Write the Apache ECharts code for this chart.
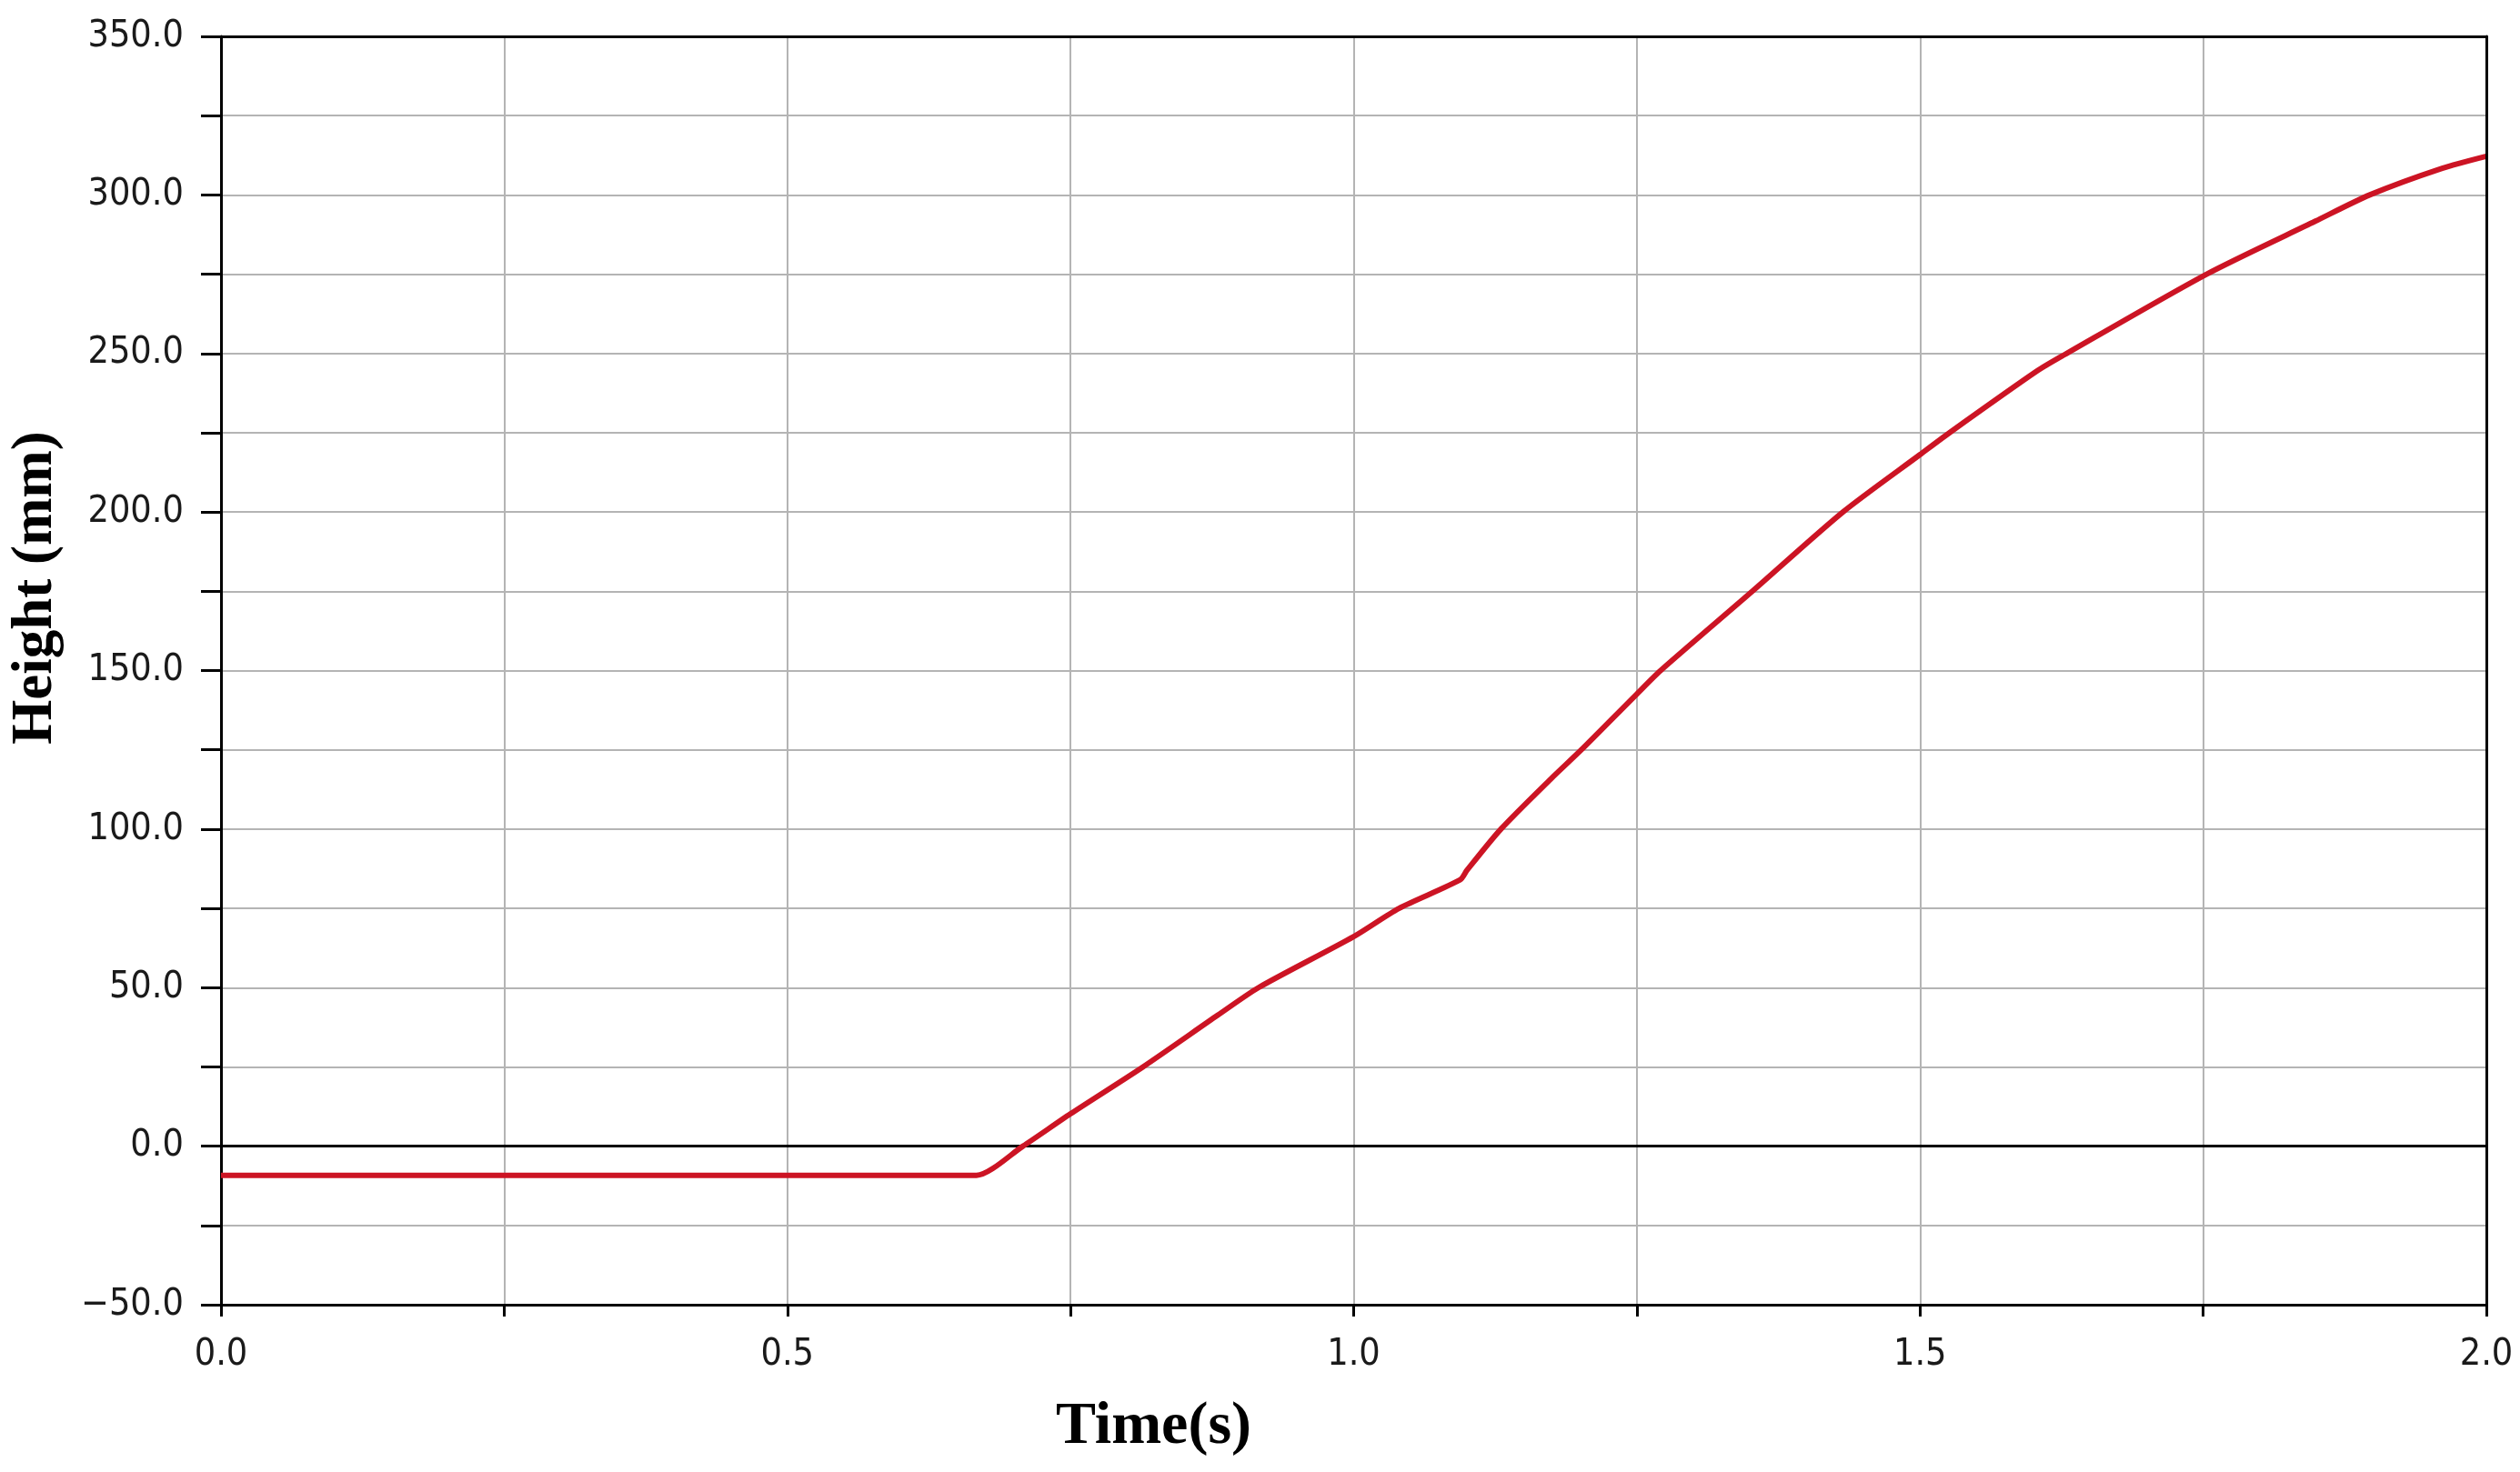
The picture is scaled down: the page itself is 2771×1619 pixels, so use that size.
<!DOCTYPE html>
<html>
<head>
<meta charset="utf-8">
<script src="https://cdn.jsdelivr.net/npm/echarts@6/dist/echarts.min.js"></script>
<style>
html,body{margin:0;padding:0;background:#fff;}
#chart{width:2771px;height:1619px;}
</style>
</head>
<body>
<div id="chart"></div>
<script>
// Time (s)
const timeS = [0, 0.65, 0.667, 0.708, 0.75, 0.814, 0.88, 0.916, 1.0, 1.04, 1.094, 1.10, 1.13, 1.174, 1.201, 1.25, 1.271, 1.352, 1.432, 1.5, 1.526, 1.603, 1.627, 1.753, 1.849, 1.897, 1.961, 2.0];
// Height (mm)
const heightMm = [-9.2, -9.2, -9.2, 0, 10.2, 25, 41.3, 50, 66.1, 75, 84, 87, 100, 115.8, 125, 142.6, 150, 175, 200, 218.1, 225, 244.4, 249.5, 275, 291.7, 300, 308.4, 312.2];
const xTickLabels = ['0.0', '0.5', '1.0', '1.5', '2.0'];
const yTickLabels = ['−50.0', '0.0', '50.0', '100.0', '150.0', '200.0', '250.0', '300.0', '350.0'];
const xAxisTitle = 'Time(s)';
const yAxisTitle = 'Height (mm)';
const zeroLineValue = 0;

const seriesData = timeS.map((t, i) => [t, heightMm[i]]);
const labelFont = '"DejaVu Sans Condensed", "DejaVu Sans", sans-serif';
const titleFont = '"Liberation Serif", "Times New Roman", serif';

const chart = echarts.init(document.getElementById('chart'), null, {renderer: 'canvas'});
chart.setOption({
  animation: false,
  backgroundColor: '#ffffff',
  grid: {
    left: 243, right: 37, top: 40, bottom: 184,
    show: false
  },
  xAxis: [{
    type: 'value', min: 0, max: 2, interval: 0.25,
    name: xAxisTitle, nameLocation: 'middle', nameGap: 102,
    nameTextStyle: {fontFamily: titleFont, fontWeight: 'bold', fontSize: 66, color: '#000', padding: [0, 440, 0, 0]},
    axisLine: {show: true, onZero: false, lineStyle: {color: '#000', width: 3}},
    axisTick: {show: true, length: 13, lineStyle: {color: '#000', width: 3}},
    axisLabel: {
      margin: 35, fontFamily: labelFont, fontSize: 41, color: '#1a1a1a',
      formatter: v => { const k = Math.round(v * 2); return Math.abs(v * 2 - k) < 1e-6 ? xTickLabels[k] : ''; }
    },
    splitLine: {show: true, lineStyle: {color: '#b4b4b4', width: 2}}
  }, {
    type: 'value', min: 0, max: 2, position: 'top', z: 5,
    axisLine: {show: true, onZero: false, lineStyle: {color: '#000', width: 3}},
    axisTick: {show: false}, axisLabel: {show: false}, splitLine: {show: false}
  }],
  yAxis: [{
    type: 'value', min: -50, max: 350, interval: 25,
    name: yAxisTitle, nameLocation: 'middle', nameGap: 172, nameRotate: 90,
    nameTextStyle: {fontFamily: titleFont, fontWeight: 'bold', fontSize: 63, color: '#000', padding: [0, 0, 0, 182]},
    axisLine: {show: true, onZero: false, lineStyle: {color: '#000', width: 3}},
    axisTick: {show: true, length: 22, lineStyle: {color: '#000', width: 3}},
    axisLabel: {
      margin: 41, fontFamily: labelFont, fontSize: 41, color: '#1a1a1a',
      formatter: v => { const k = Math.round((v + 50) / 50); return Math.abs((v + 50) / 50 - k) < 1e-6 ? yTickLabels[k] : ''; }
    },
    splitLine: {show: true, lineStyle: {color: '#b4b4b4', width: 2}}
  }, {
    type: 'value', min: -50, max: 350, position: 'right', z: 5,
    axisLine: {show: true, onZero: false, lineStyle: {color: '#000', width: 3}},
    axisTick: {show: false}, axisLabel: {show: false}, splitLine: {show: false}
  }],
  series: [{
    type: 'line',
    xAxisIndex: 0, yAxisIndex: 0,
    data: seriesData,
    showSymbol: false,
    symbol: 'none',
    smooth: 0.25,
    lineStyle: {color: '#cc1424', width: 6},
    markLine: {
      silent: true, symbol: 'none', label: {show: false},
      lineStyle: {color: '#000', width: 3, type: 'solid'},
      data: [{yAxis: zeroLineValue}],
      z: 1
    },
    z: 3
  }]
});
</script>
</body>
</html>
